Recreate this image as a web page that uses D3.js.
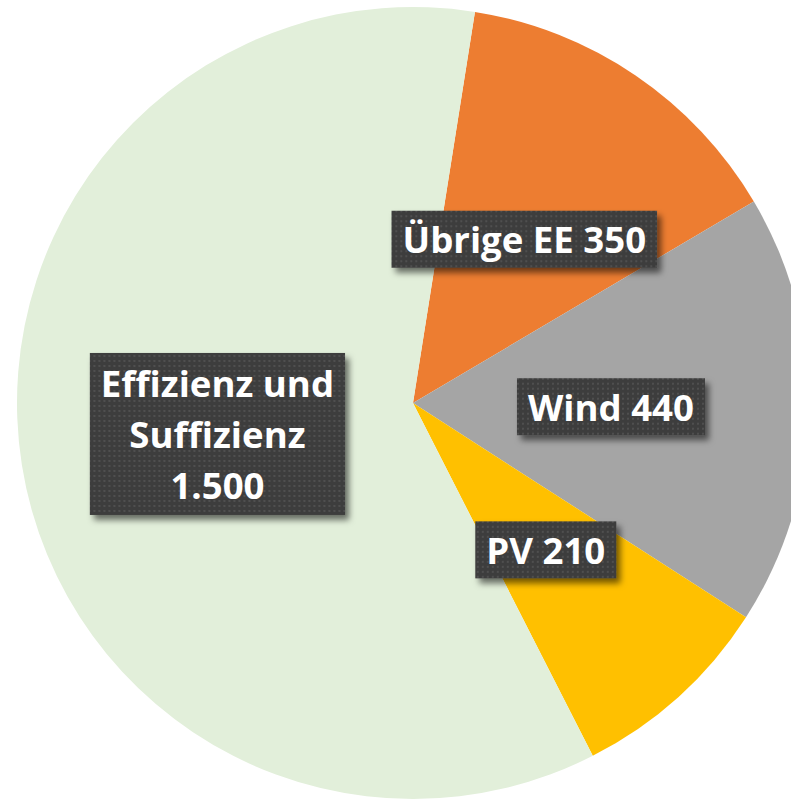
<!DOCTYPE html>
<html><head><meta charset="utf-8">
<script src="https://cdn.jsdelivr.net/npm/d3@7"></script>
<style>html,body{margin:0;padding:0;background:#fff;overflow:hidden}</style>
</head><body>
<svg id="chart" width="791" height="799"></svg>
<script>
const categories = ["Übrige EE", "Wind", "PV", "Effizienz und Suffizienz"];
const values = [350, 440, 210, 1500];
const valueLabels = ["350", "440", "210", "1.500"];
const labelLines = [["Übrige EE 350"], ["Wind 440"], ["PV 210"], ["Effizienz und", "Suffizienz", "1.500"]];
const colors = ["#ED7D31", "#A5A5A5", "#FFC000", "#E2EFDA"];

const svg = d3.select("#chart");
const cx = 413, cy = 403, R = 396;
const defs = svg.append("defs");
const pat = defs.append("pattern").attr("id","tex").attr("width",5).attr("height",5).attr("patternUnits","userSpaceOnUse");
pat.append("rect").attr("width",5).attr("height",5).attr("fill","#3d3d3d");
pat.append("rect").attr("x",1).attr("y",1).attr("width",2).attr("height",2).attr("fill","#505050");
const f = defs.append("filter").attr("id","sh").attr("x","-20%").attr("y","-20%").attr("width","150%").attr("height","160%");
f.append("feDropShadow").attr("dx",4).attr("dy",5).attr("stdDeviation",3).attr("flood-color","#000").attr("flood-opacity",0.55);

const color = d3.scaleOrdinal().domain(categories).range(colors);
const pie = d3.pie().sort(null).value(d => d.v).startAngle(9*Math.PI/180).endAngle(9*Math.PI/180 + 2*Math.PI);
const data = categories.map((c,i) => ({c, v: values[i], lines: labelLines[i]}));
const arcs = pie(data);
const arc = d3.arc().innerRadius(0).outerRadius(R);
const labelArc = d3.arc().innerRadius(198).outerRadius(198);

const g = svg.append("g").attr("transform", `translate(${cx},${cy})`);
g.selectAll("path.slice").data(arcs).join("path").attr("class","slice")
  .attr("d", arc).attr("fill", d => color(d.data.c));

const FONT = "'Open Sans', Lato, sans-serif";
const probe = svg.append("text").attr("font-family",FONT).attr("font-weight","bold").attr("font-size",40).text("Wind 440");
const w40 = probe.node().getComputedTextLength();
probe.remove();
const fs = 40 * 166 / w40;

const lg = g.selectAll("g.lab").data(arcs).join("g").attr("class","lab")
  .attr("transform", d => { const [x,y] = labelArc.centroid(d); return `translate(${x},${y})`; });
lg.each(function(d){
  const sel = d3.select(this);
  const t = sel.append("text").attr("text-anchor","middle").attr("fill","#fff")
    .attr("font-family",FONT).attr("font-weight","bold").attr("font-size",fs);
  const n = d.data.lines.length;
  const lh = 51;
  d.data.lines.forEach((ln,i) => {
    t.append("tspan").attr("x",0).attr("y", 14 + (i - (n-1)/2)*lh).text(ln);
  });
  let maxW = 0;
  t.selectAll("tspan").each(function(){ maxW = Math.max(maxW, this.getComputedTextLength()); });
  const bw = maxW + 22, bh = n === 1 ? 57 : 162;
  sel.insert("rect","text").attr("x",-bw/2).attr("y",-bh/2).attr("width",bw).attr("height",bh)
    .attr("fill","url(#tex)").attr("filter","url(#sh)");
});
</script>
</body></html>
